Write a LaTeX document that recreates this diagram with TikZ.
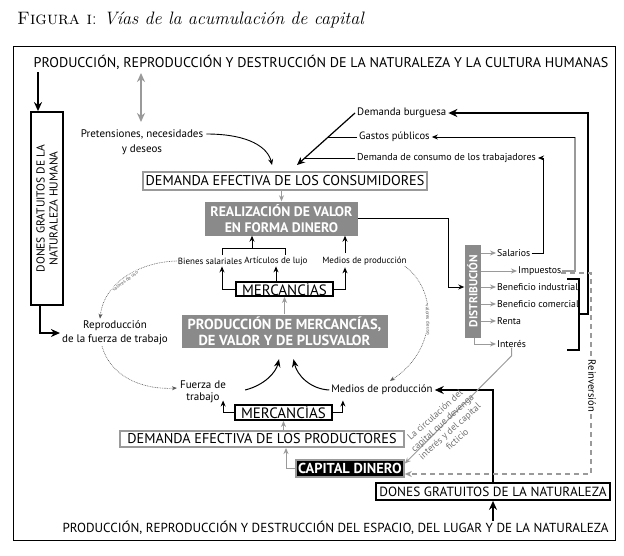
\documentclass[tikz,border=0pt]{standalone}
\usepackage{fontspec}
\setsansfont{PT Sans}
\usetikzlibrary{arrows.meta,calc}
\definecolor{boxgray}{HTML}{8A8A8A}
\definecolor{lgray}{HTML}{9A9A9A}
\definecolor{dotgray}{HTML}{5A5A5A}
\definecolor{txtgray}{HTML}{707070}
\tikzset{
  every node/.style={font=\sffamily, inner sep=0pt},
  caps/.style={font=\sffamily\fontsize{14.1}{15}\selectfont},
  lbl/.style={font=\sffamily\fontsize{9.8}{11}\selectfont},
  slbl/.style={font=\sffamily\fontsize{9}{11}\selectfont},
  lblb/.style={font=\sffamily\fontsize{11}{14}\selectfont, align=center},
  tiny/.style={font=\sffamily\fontsize{5}{6}\selectfont, fill=white, inner sep=0.5pt, text=dotgray},
  gbox/.style={draw=lgray, line width=2pt, fill=white, font=\sffamily\fontsize{14.2}{15}\selectfont},
  kbox/.style={draw=black, line width=1.8pt, fill=white, font=\sffamily\fontsize{15}{15}\selectfont},
  fbox/.style={fill=boxgray, text=white, font=\sffamily\bfseries\fontsize{13.8}{15.5}\selectfont, align=center},
  cbox/.style={fill=black, draw=lgray, line width=1.6pt, text=white, font=\sffamily\bfseries\fontsize{14.4}{15}\selectfont},
  barrow/.style={draw=black, line width=1.7pt, -{Stealth[length=9pt,width=8pt]}},
  tarrow/.style={draw=black, line width=0.9pt, -{Stealth[length=6pt,width=5pt]}},
  garrow/.style={draw=lgray, line width=1pt, -{Stealth[length=6pt,width=5pt]}},
  dotl/.style={draw=dotgray, line width=0.6pt, dash pattern=on 0.8pt off 0.9pt, -{Stealth[length=5pt,width=4pt]}},
  dashl/.style={draw=lgray, line width=1.3pt, dash pattern=on 5pt off 4pt, -{Stealth[length=7pt,width=6pt]}},
}
\begin{document}
\begin{tikzpicture}[x=1pt,y=-1pt]
\useasboundingbox (0,0) rectangle (624,555);
% title and frame
\node[anchor=base west, font=\rmfamily\fontsize{18}{20}\selectfont] (title) at (17,24) {\textsc{Figura i}: \textit{Vías de la acumulación de capital}};
\draw[line width=0.8pt] (13,46) rectangle (615,540);
\node[caps] (top) at (321,62) {PRODUCCIÓN, REPRODUCCIÓN Y DESTRUCCIÓN DE LA NATURALEZA Y LA CULTURA HUMANAS};
\node[caps, font=\sffamily\fontsize{13.1}{15}\selectfont] (bot) at (335.5,528) {PRODUCCIÓN, REPRODUCCIÓN Y DESTRUCCIÓN DEL ESPACIO, DEL LUGAR Y DE LA NATURALEZA};

% left column
\node[draw=black, line width=1.8pt, minimum width=32, minimum height=193] (dh) at (47,208.5) {};
\node[caps, font=\sffamily\fontsize{11.5}{13}\selectfont, rotate=90, align=center] (dhtext) at (dh.center) {DONES GRATUITOS DE LA\\NATURALEZA HUMANA};
\coordinate (a1) at (38,72);
\draw[barrow] (a1) -- (a1 |- dh.north);
\coordinate (g1) at (141,73);
\coordinate (g2) at (141,122);
\draw[draw=lgray, line width=1.6pt, {Stealth[length=9pt,width=8pt]}-{Stealth[length=9pt,width=8pt]}] (g1) -- (g2);
\node[lblb] (rep) at (115,333) {Reproducción\\de la fuerza de trabajo};
\draw[barrow] ($(dh.south)+(-7,0)$) |- ([xshift=-2pt]rep.west);

% pretensiones
\node[lblb] (pre1) at (142,134) {Pretensiones, necesidades};
\node[lblb] (pre2) at (142,150) {y deseos};
\node[gbox, minimum width=284, minimum height=18] (dc) at (285,181) {DEMANDA EFECTIVA DE LOS CONSUMIDORES};
\draw[tarrow] ([xshift=3pt]pre1.east) .. controls (250,134) and (268,148) .. ($(dc.north)+(-13,-6)$);

% demand sources
\node[lbl, font=\sffamily\fontsize{10.8}{12}\selectfont, anchor=west] (db) at (357,113) {Demanda burguesa};
\node[lbl, font=\sffamily\fontsize{10.6}{12}\selectfont, anchor=west] (gp) at (359,137) {Gastos públicos};
\node[lbl, font=\sffamily\fontsize{10}{12}\selectfont, anchor=west] (dct) at (357,158) {Demanda de consumo de los trabajadores};
\coordinate (j1) at (326.5,137);
\coordinate (j2) at (305.2,158);
\draw[draw=black, line width=1.2pt, -{Stealth[length=8pt,width=7pt]}] ([xshift=-2pt]db.west) -- ($(dc.north)+(12,-6)$);
\draw[line width=1pt] ([xshift=-2pt]gp.west) -- (j1);
\draw[line width=1pt] ([xshift=-2pt]dct.west) -- (j2);

% realizacion
\node[fbox, minimum width=153, minimum height=34] (rv) at (281.5,218.5) {REALIZACIÓN DE VALOR\\EN FORMA DINERO};
\draw[garrow] (dc.south -| rv.north) -- (rv.north);

\node[slbl] (bs) at (210,261) {Bienes salariales};
\node[slbl] (al) at (276,261) {Artículos de lujo};
\node[slbl] (mp1) at (364.5,261) {Medios de producción};
\draw[line width=0.9pt] (222,255) -- (222,248) -- (285,248) -- (285,255);
\coordinate (bk) at (252,248);
\draw[tarrow] (bk) -- (bk |- rv.south);
\coordinate (m1) at (345,253);
\draw[tarrow] (m1) -- (m1 |- rv.south);

\node[kbox, minimum width=97, minimum height=14] (mc1) at (284.5,289) {MERCANCÍAS};
\draw[tarrow] (mc1.west) -| ($(bs.south)+(12,2)$);
\draw[tarrow] (mc1.north -| al.south) -- ([yshift=-1pt]al.south);
\draw[tarrow] (mc1.east) -| ($(mp1.south)+(-19.5,2)$);

\node[fbox, font=\sffamily\bfseries\fontsize{14.5}{16}\selectfont, minimum width=206, minimum height=33] (pr) at (284.5,331) {PRODUCCIÓN DE MERCANCÍAS,\\DE VALOR Y DE PLUSVALOR};
\draw[garrow] (pr.north -| mc1.south) -- (mc1.south);

% lower part
\node[lblb, font=\sffamily\fontsize{11}{12.5}\selectfont] (ft) at (203,392) {Fuerza de\\trabajo};
\node[lblb, font=\sffamily\fontsize{10.8}{12}\selectfont] (mp2) at (382,390) {Medios de producción};
\node[kbox, minimum width=97, minimum height=15] (mc2) at (283.5,412.5) {MERCANCÍAS};
\draw[tarrow] (mc2.west) -- ++(-11,0) -- ++(0,-12);
\draw[tarrow] (mc2.east) -- ++(10,0) -- ++(0,-12);
\draw[draw=black, line width=1pt, -{Stealth[length=8pt,width=6.5pt]}] ($(ft.east)+(19,-2)$) .. controls (265,385) and (276,372) .. ($(pr.south)+(-5.5,11.5)$);
\draw[draw=black, line width=1pt, -{Stealth[length=8pt,width=6.5pt]}] ($(mp2.west)+(-2,0)$) .. controls (310,389) and (297,375) .. ($(pr.south)+(9,11.5)$);

\node[gbox, minimum width=284, minimum height=16] (dp) at (262,439) {DEMANDA EFECTIVA DE LOS PRODUCTORES};
\draw[garrow] (mc2.south |- dp.north) -- (mc2.south);
\node[cbox, minimum width=108, minimum height=17] (cap) at (350,468.5) {CAPITAL DINERO};
\draw[garrow] (cap.west) -| ($(dp.south)+(24,0)$);

\node[draw=black, line width=1.7pt, fill=white, minimum width=234, minimum height=17, font=\sffamily\fontsize{13.3}{14}\selectfont] (dn) at (493,491.5) {DONES GRATUITOS DE LA NATURALEZA};
\draw[barrow] (bot.north -| dn.south) -- (dn.south);
\draw[barrow] (dn.north) |- ([xshift=2pt]mp2.east);

% dotted valores de uso
\draw[dotl] ([xshift=-1pt]bs.west) .. controls (140,262) and (104,282) .. ($(rep.north)+(-15,-2)$);
\node[tiny, rotate=36] (vu1) at (125,281) {valores de uso};
\draw[dotl] ($(rep.south)+(-13,1)$) .. controls (110,375) and (140,390) .. ($(ft.west)+(-3,-4)$);
\draw[dotl] ($(mp1.south east)+(-2,1)$) .. controls (438,290) and (438,350) .. ($(mp2.north)+(8,-4)$);
\node[tiny, rotate=-88] (vu2) at (428,320) {valores de uso};

% distribucion
\node[fill=boxgray, minimum width=16, minimum height=93] (dis) at (472.5,291) {};
\node[rotate=90, text=white, font=\sffamily\bfseries\fontsize{11.5}{12}\selectfont] (distext) at (dis.center) {DISTRIBUCIÓN};
\draw[tarrow] (rv.east) -- ++(90,0) |- ([yshift=4pt]dis.west);
\node[lbl, anchor=west] (sal) at (497,253) {Salarios};
\node[lbl, anchor=west] (imp) at (518,271) {Impuestos};
\node[lbl, anchor=west] (bi) at (497,287) {Beneficio industrial};
\node[lbl, anchor=west] (bc) at (497,304) {Beneficio comercial};
\node[lbl, anchor=west] (ren) at (497,321) {Renta};
\node[lbl, anchor=west] (int) at (497,344) {Interés};
\draw[garrow] (dis.east |- sal.west) -- ([xshift=-1pt]sal.west);
\draw[garrow] (dis.east |- imp.west) -- ([xshift=-1pt]imp.west);
\draw[garrow] (dis.east |- bi.west) -- ([xshift=-1pt]bi.west);
\draw[garrow] (dis.east |- bc.west) -- ([xshift=-1pt]bc.west);
\draw[garrow] (dis.east |- ren.west) -- ([xshift=-1pt]ren.west);
\draw[garrow] ($(dis.south)+(2,0)$) |- ([xshift=-1pt]int.west);

% right side connectors
\draw[tarrow] ([xshift=1pt]sal.east) -- (543,253) |- ([xshift=2pt]dct.east);
\coordinate (gc) at (575,137);
\draw[draw=lgray, line width=1.2pt] ([xshift=1pt]imp.east) -- (575,271) -- (gc);
\draw[tarrow] (gc) -- ([xshift=2pt]gp.east);
\draw[line width=1.6pt] (567,279) -- (579,279) -- (579,350) -- (567,350);
\coordinate (bm) at (579,314);
\draw[barrow] (bm) -- (588,314) |- ([xshift=2pt]db.east);
\draw[dashl] ([yshift=-2pt]imp.east) -- (591,273) -- (591,474) -- ([yshift=-5.5pt]cap.east);
\node[lbl, font=\sffamily\fontsize{10.5}{12}\selectfont, rotate=-90, fill=white, inner sep=1pt] (rein) at (592,386) {Reinversión};
\draw[garrow] (int.south) -- ++(0,8) -- ([yshift=5pt]cap.east);
\node[font=\sffamily\fontsize{9.4}{11}\selectfont, text=txtgray, align=center, rotate=42] (circ) at (446,427) {La circulación del\\capital que devenga\\interés y del capital\\ficticio};
\end{tikzpicture}
\end{document}
